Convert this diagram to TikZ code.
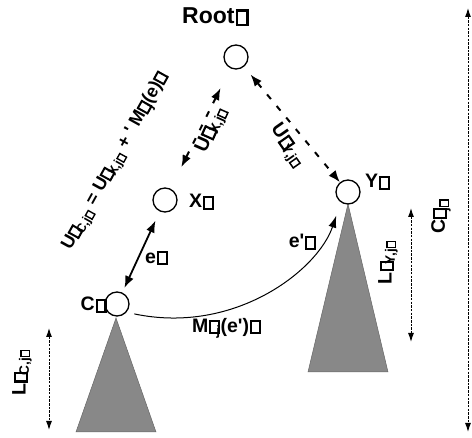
\documentclass[tikz,border=0pt]{standalone}
\usepackage{fontspec}
\setmainfont{Liberation Sans}
\usetikzlibrary{arrows.meta}
\newcommand\gb{\kern0.05em\raisebox{0.01em}{\fboxsep=0pt\fboxrule=0.11em\fbox{\rule{0pt}{0.5em}\kern0.34em}}\kern0.05em}
\newcommand\sbx[1]{\textsubscript{\kern-0.35em #1}}
\newcommand\apo{\textquotesingle}
\tikzset{
  lbl/.style={font=\bfseries\fontsize{19.5}{19.5}\selectfont, inner sep=0pt},
  vtx/.style={circle, draw, line width=1.3pt, minimum size=24pt, inner sep=0pt},
  tri/.style={fill={rgb,255:red,136;green,136;blue,136}, draw=black!60, line width=0.5pt},
  dimline/.style={dash pattern=on 2.5pt off 1.2pt, line width=1pt,
    {Latex[length=9pt,width=6pt]}-{Latex[length=9pt,width=6pt]}},
  dashlink/.style={dash pattern=on 6pt off 9pt, line width=2pt,
    {Latex[length=12pt,width=9pt]}-{Latex[length=12pt,width=9pt]}}
}
\begin{document}
\begin{tikzpicture}[x=1pt,y=-1pt]
\useasboundingbox (0,0) rectangle (472,438);
% subtrees
\draw[tri] (116,318) -- (156,432) -- (76,432) -- cycle;
\draw[tri] (348,204) -- (388,372) -- (308,372) -- cycle;
% vertices
\node[vtx] (R) at (236,57) {};
\node[vtx] (X) at (165,200) {};
\node[vtx] (Y) at (348,192) {};
\node[vtx] (C) at (117,304) {};
\node[lbl, font=\bfseries\fontsize{23}{23}\selectfont] (Rl) at (216,17) {Root\gb};
\node[lbl] (Xl) at (202,202) {X\gb};
\node[lbl] (Yl) at (378,182) {Y\gb};
\node[lbl] (Cl) at (94,305) {C\gb};
% links
\draw[dashlink, shorten <=22pt, shorten >=24pt] (R) -- (X);
\draw[dashlink, shorten <=10pt, shorten >=0pt] (R) -- (Y);
\draw[line width=1.8pt, {Latex[length=12pt,width=9pt]}-{Latex[length=12pt,width=9pt]},
  shorten <=10pt, shorten >=5pt] (X) -- (C);
\draw[line width=1pt, -{Latex[length=12pt,width=8pt]}, shorten <=8pt, shorten >=14pt]
  (C.-41) .. controls (235,335) and (318,270) .. (Y.-125);
% labels
\node[lbl, font=\bfseries\fontsize{18}{18}\selectfont, rotate=61] (eq) at (116,161)
  {U\gb\sbx{C,j\gb} = U\gb\sbx{X,j\gb} + \apo{} M\gb\sbx{j}(e)\gb};
\node[lbl, rotate=66] (ux) at (212,130) {U\gb\sbx{X,j\gb}};
\node[lbl, rotate=-55] (uy) at (287,146) {U\gb\sbx{Y,j\gb}};
\node[lbl] (el) at (157,258) {e\gb};
\node[lbl] (e2l) at (303,242) {e\apo\gb};
\node[lbl] (ml) at (227,328) {M\gb\sbx{j}(e\apo)\gb};
% dimensions
\coordinate (t1) at (468,8);
\coordinate (b1) at (468,432);
\draw[dimline] (t1) -- (b1);
\node[lbl, rotate=90] (cj) at (441,216) {C\gb\sbx{j\gb}};
\coordinate (t2) at (411,208);
\coordinate (b2) at (411,342);
\draw[dimline] (t2) -- (b2);
\node[lbl, rotate=90] (ly) at (388,262) {L\gb\sbx{Y,j\gb}};
\coordinate (t3) at (49,328);
\coordinate (b3) at (49,430);
\draw[dimline] (t3) -- (b3);
\node[lbl, rotate=90] (lc) at (22,372) {L\gb\sbx{C,j\gb}};
\end{tikzpicture}
\end{document}
